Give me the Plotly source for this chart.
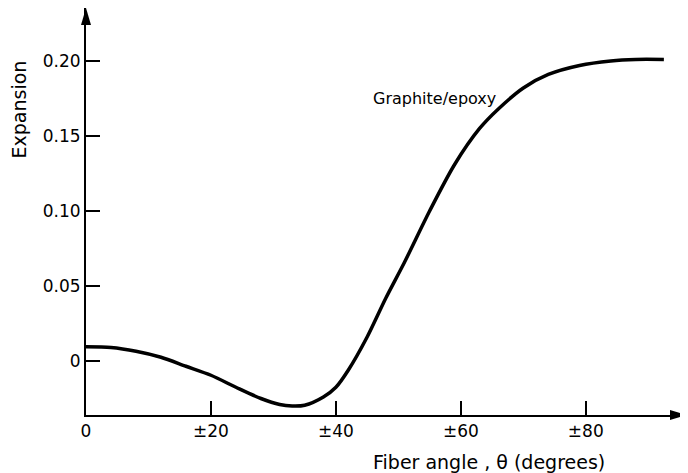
import plotly.graph_objects as go

# Data
fiber_angle = [0, 4, 8, 12, 16, 20, 24, 28, 31, 33, 35, 38, 40, 42, 45, 48, 51, 55, 59, 63, 66, 70, 74, 79, 84, 88, 92.5]
expansion = [0.0095, 0.009, 0.0065, 0.0025, -0.0035, -0.0095, -0.0175, -0.0250, -0.0290, -0.0300,
             -0.0295, -0.0240, -0.0175, -0.0060, 0.0160, 0.0420, 0.0660, 0.1000, 0.1310, 0.1550,
             0.1680, 0.1820, 0.1910, 0.1970, 0.2000, 0.2010, 0.2010]

x_tick_vals = [0, 20, 40, 60, 80]
x_tick_text = ["0", "±20", "±40", "±60", "±80"]
y_tick_vals = [0, 0.05, 0.10, 0.15, 0.20]
y_tick_text = ["0", "0.05", "0.10", "0.15", "0.20"]

x_range = [0, 96.2]
y_range = [-0.036, 0.2353]

FONT = "DejaVu Sans"

fig = go.Figure()
fig.add_trace(go.Scatter(
    x=fiber_angle, y=expansion, mode="lines",
    line=dict(color="black", width=3.5, shape="spline", smoothing=0.8),
    showlegend=False, hoverinfo="skip",
))

axis_common = dict(
    showgrid=False, zeroline=False, automargin=False,
    showline=True, linecolor="black", linewidth=2,
    ticks="inside", ticklen=14, tickwidth=1.5, tickcolor="black",
    tickfont=dict(family=FONT, size=17, color="black"),
    fixedrange=True,
)

fig.update_layout(
    width=680, height=465,
    margin=dict(l=78, r=1, t=0, b=58, pad=0),
    paper_bgcolor="white", plot_bgcolor="white",
    font=dict(family=FONT, size=16, color="black"),
    xaxis=dict(range=x_range, tickvals=x_tick_vals, ticktext=x_tick_text, **axis_common),
    yaxis=dict(range=y_range, tickvals=y_tick_vals, ticktext=y_tick_text, **axis_common),
    annotations=[
        dict(text="Graphite/epoxy", x=55.8, y=0.175, xref="x", yref="y",
             xanchor="center", yanchor="middle",
             showarrow=False, font=dict(family=FONT, size=16, color="black")),
        dict(text="Fiber angle , θ (degrees)", x=0.6705, y=-0.1155, xref="paper", yref="paper",
             xanchor="center", yanchor="middle",
             showarrow=False, font=dict(family=FONT, size=19, color="black")),
        dict(text="Expansion", x=-0.1115, y=0.7506, xref="paper", yref="paper",
             xanchor="center", yanchor="middle",
             textangle=-90, showarrow=False, font=dict(family=FONT, size=19, color="black")),
    ],
    shapes=[
        # arrowhead at the end of the x axis
        dict(type="path", xref="paper", yref="paper", xsizemode="pixel", ysizemode="pixel",
             xanchor=1, yanchor=0,
             path="M 0 0 L -17 5 L -17 -5 Z", fillcolor="black", line=dict(width=0)),
        # arrowhead at the top of the y axis
        dict(type="path", xref="paper", yref="paper", xsizemode="pixel", ysizemode="pixel",
             xanchor=0, yanchor=1,
             path="M 0 0 L -5 -17 L 5 -17 Z", fillcolor="black", line=dict(width=0)),
    ],
)

fig.write_html("out.html")
